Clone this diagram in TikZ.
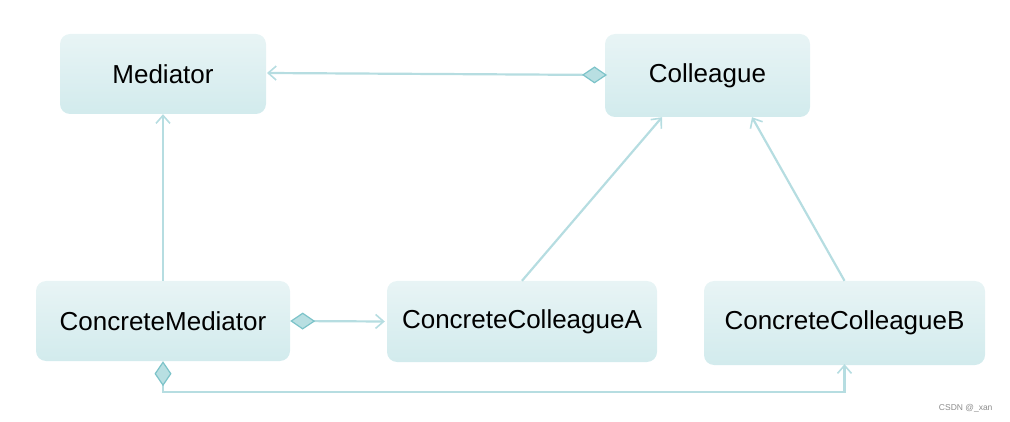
\documentclass[tikz,border=0pt]{standalone}
\usepackage{fontspec}
\setmainfont{Liberation Sans}
\usetikzlibrary{arrows.meta}
\definecolor{boxtop}{HTML}{E8F4F5}
\definecolor{boxbot}{HTML}{D2EBED}
\definecolor{linec}{HTML}{B6DDE1}
\definecolor{diafill}{HTML}{B8DFE2}
\definecolor{diaedge}{HTML}{7CC3C9}
\tikzset{
  cls/.style={rounded corners=10pt, top color=boxtop, bottom color=boxbot, draw=none,
    font=\fontsize{26}{30}\selectfont, text=black, inner sep=0pt},
  conn/.style={draw=linec, line width=2.2pt},
  opentip/.style={-{Straight Barb[length=8pt,width=14pt,line width=1.6pt]}},
  dia/.tip={Diamond[length=25pt,width=17pt,fill=diafill,color=diaedge,line width=1.2pt]},
}
\begin{document}
\begin{tikzpicture}[x=1pt,y=-1pt]
\useasboundingbox (0,0) rectangle (1010,422);
\node[cls, minimum width=206pt, minimum height=80pt] (med) at (163,74) {Mediator};
\node[cls, minimum width=205pt, minimum height=83pt] (col) at (707.5,75.5) {Colleague};
\node[cls, minimum width=254pt, minimum height=80pt] (cmed) at (163,321) {ConcreteMediator};
\node[cls, minimum width=270pt, minimum height=81pt] (cca) at (522,321.5) {ConcreteColleagueA};
\node[cls, minimum width=281pt, minimum height=84pt] (ccb) at (844.5,323) {ConcreteColleagueB};
\coordinate (colL) at (607,75);
\coordinate (medR) at (267,73);
\coordinate (bl) at (163,392);
\draw[conn, dia-{Straight Barb[length=8pt,width=14pt,line width=1.6pt]}] (colL) -- (medR);
\draw[conn, opentip] (cmed.north) -- (med.south);
\draw[conn, opentip] (cca.north) -- (col.south -| 662,0);
\draw[conn, opentip] (ccb.north) -- (col.south -| 752,0);
\draw[conn, dia-{Straight Barb[length=8pt,width=14pt,line width=1.6pt]}] (cmed.east) -- ([xshift=-2pt]cca.west);
\draw[conn, dia-{Straight Barb[length=8pt,width=14pt,line width=1.6pt]}, rounded corners=0pt] (cmed.south) -- (bl) -| ([yshift=1pt]ccb.south);
\node[font=\fontsize{8.5}{10}\selectfont, text=black!45, anchor=east] (wm) at (996,408) {CSDN @\_xan};
\end{tikzpicture}
\end{document}
